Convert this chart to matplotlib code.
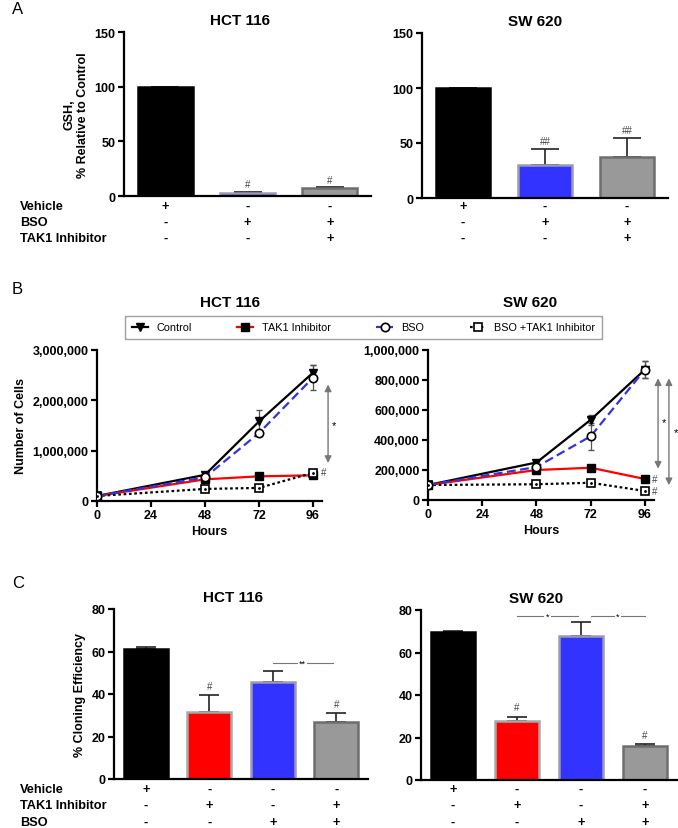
import matplotlib
matplotlib.use("Agg")
import matplotlib.pyplot as plt
from matplotlib.transforms import blended_transform_factory
from matplotlib.ticker import FuncFormatter
import numpy as np

plt.rcParams["font.family"] = ["Liberation Sans", "DejaVu Sans"]

W, H = 678, 829

# ---- panel A: GSH levels ----
a_titles = ["HCT 116", "SW 620"]
a_values = [[100, 3, 7], [100, 30, 37]]
a_errors = [[0, 1.0, 1.5], [0, 15, 18]]
a_marks = [["", "#", "#"], ["", "##", "##"]]
a_row_names = ["Vehicle", "BSO", "TAK1 Inhibitor"]
a_rows = [["+", "-", "-"], ["-", "+", "+"], ["-", "-", "+"]]

# ---- panel B: growth curves ----
hours = [0, 48, 72, 96]
b_titles = ["HCT 116", "SW 620"]
b_series = ["Control", "TAK1 Inhibitor", "BSO", "BSO +TAK1 Inhibitor"]
hct_control = [100000, 520000, 1580000, 2550000]
hct_tak1 = [100000, 430000, 490000, 510000]
hct_bso = [100000, 470000, 1350000, 2450000]
hct_combo = [100000, 240000, 260000, 560000]
hct_control_err = [0, 40000, 220000, 150000]
hct_bso_err = [0, 30000, 60000, 250000]
sw_control = [100000, 250000, 535000, 870000]
sw_tak1 = [100000, 200000, 215000, 140000]
sw_bso = [100000, 220000, 425000, 870000]
sw_combo = [100000, 105000, 115000, 60000]
sw_control_err = [0, 15000, 35000, 55000]
sw_bso_err = [0, 15000, 90000, 55000]

# ---- panel C: cloning efficiency ----
c_titles = ["HCT 116", "SW 620"]
c_values = [[61, 31.5, 45.5, 27], [69.5, 28, 68, 16]]
c_errors = [[1, 8, 5.5, 4], [0.6, 1.8, 6.2, 1]]
c_marks = [["", "#", "", "#"], ["", "#", "", "#"]]
c_row_names = ["Vehicle", "TAK1 Inhibitor", "BSO"]
c_rows = [["+", "-", "-", "-"], ["-", "+", "-", "+"], ["-", "-", "+", "+"]]

TICK_FS = 9
TITLE_FS = 11
LABEL_FS = 9
ROW_FS = 9.2

fig = plt.figure(figsize=(W / 100, H / 100), dpi=100)


def add_ax(x0, y0, x1, y1):
    # pixel box (top-left origin) -> figure fraction
    return fig.add_axes([x0 / W, 1 - y1 / H, (x1 - x0) / W, (y1 - y0) / H])


def style_ax(ax, xticks=False):
    for side in ["top", "right"]:
        ax.spines[side].set_visible(False)
    for side in ["left", "bottom"]:
        ax.spines[side].set_linewidth(1.6)
    ax.tick_params(axis="y", width=1.6, length=4, labelsize=TICK_FS, pad=2)
    for lab in ax.get_yticklabels():
        lab.set_fontweight("bold")
    if xticks:
        ax.tick_params(axis="x", width=1.6, length=4, labelsize=TICK_FS, pad=2)
        for lab in ax.get_xticklabels():
            lab.set_fontweight("bold")
    else:
        ax.tick_params(axis="x", length=0, labelbottom=False)


def bar_panel(ax, values, errors, marks, colors, edges, width, cap):
    x = np.arange(len(values))
    ax.bar(x, values, width=width, color=colors, edgecolor=edges, linewidth=1.8, zorder=2)
    ax.errorbar(x, values, yerr=[np.zeros(len(values)), errors], fmt="none",
                ecolor="#222222", elinewidth=1.2, capsize=cap, capthick=1.2, zorder=1)
    for xi, v, e, m in zip(x, values, errors, marks):
        if m:
            ax.text(xi, v + e + 2, m, ha="center", va="bottom", fontsize=7, color="#444444")
    ax.set_xlim(-0.5, len(values) - 0.5)


def sign_rows(ax, rows, ys):
    tr = blended_transform_factory(ax.transData, fig.transFigure)
    for row, yp in zip(rows, ys):
        for i, s in enumerate(row):
            ax.text(i, 1 - yp / H, s, transform=tr, ha="center", va="center",
                    fontsize=ROW_FS, fontweight="bold")


def row_names(names, ys):
    for n, yp in zip(names, ys):
        fig.text(20 / W, 1 - yp / H, n, ha="left", va="center", fontsize=ROW_FS, fontweight="bold")


# ---------- A ----------
a_boxes = [(124, 33, 371, 197), (422, 34, 668, 199)]
a_title_x = [0.47, 0.46]
a_colors = ["#000000", "#3333FF", "#999999"]
a_edges = ["#000000", "#9A9AB0", "#6E6E6E"]
a_row_y = [207, 223, 239]
for k in range(2):
    ax = add_ax(*a_boxes[k])
    bar_panel(ax, a_values[k], a_errors[k], a_marks[k], a_colors, a_edges, 0.67, 10)
    ax.set_ylim(0, 150)
    ax.set_yticks([0, 50, 100, 150])
    style_ax(ax)
    ax.set_title(a_titles[k], fontsize=TITLE_FS, fontweight="bold", pad=6, x=a_title_x[k])
    sign_rows(ax, a_rows, a_row_y)
    if k == 0:
        ax.set_ylabel("GSH,\n% Relative to Control", fontsize=LABEL_FS, fontweight="bold", labelpad=4)
row_names(a_row_names, a_row_y)

# ---------- B ----------
b_boxes = [(97, 351, 322, 502), (428, 351, 654, 501)]
b_title_x = [0.59, 0.45]
b_data = [
    (hct_control, hct_tak1, hct_bso, hct_combo, hct_control_err, hct_bso_err),
    (sw_control, sw_tak1, sw_bso, sw_combo, sw_control_err, sw_bso_err),
]
b_ylims = [(3000000, [0, 1000000, 2000000, 3000000]),
           (1000000, [0, 200000, 400000, 600000, 800000, 1000000])]
handles = None
for k in range(2):
    ax = add_ax(*b_boxes[k])
    ctrl, tak, bso, combo, ctrl_err, bso_err = b_data[k]
    ax.errorbar(hours, ctrl, yerr=ctrl_err, fmt="none", ecolor="#555555",
                elinewidth=0.9, capsize=2, zorder=1)
    ax.errorbar(hours, bso, yerr=bso_err, fmt="none", ecolor="#555555",
                elinewidth=0.9, capsize=2, zorder=1)
    h1, = ax.plot(hours, ctrl, color="black", lw=1.6, marker="v", ms=6,
                  mfc="black", mec="black", zorder=3)
    h2, = ax.plot(hours, tak, color="#FF0000", lw=1.6, marker="s", ms=6,
                  mfc="black", mec="black", zorder=3)
    h3, = ax.plot(hours, bso, color="#3333DD", lw=1.6, ls=(0, (4, 2)), marker="o", ms=6,
                  mfc="white", mec="black", mew=1.2, zorder=4)
    h4, = ax.plot(hours, combo, color="black", lw=1.6, ls=(0, (1.2, 1.2)), marker="s", ms=6,
                  mfc="white", mec="black", mew=1.2, zorder=3)
    ax.plot(hours, combo, ls="none", marker=".", ms=2, color="black", zorder=5)
    handles = [h1, h2, h3, h4]
    ax.set_xlim(0, 100)
    ax.set_xticks([0, 24, 48, 72, 96])
    top, ticks = b_ylims[k]
    ax.set_ylim(0, top)
    ax.set_yticks(ticks)
    ax.yaxis.set_major_formatter(FuncFormatter(lambda v, p: f"{int(v):,}"))
    style_ax(ax, xticks=True)
    ax.set_xlabel("Hours", fontsize=LABEL_FS, fontweight="bold", labelpad=3)
    ax.set_title(b_titles[k], fontsize=TITLE_FS, fontweight="bold", pad=32, x=b_title_x[k])
    arrow = dict(arrowstyle="<|-|>,head_length=0.4,head_width=0.2", color="#777777", lw=1.0)
    if k == 0:
        ax.set_ylabel("Number of Cells", fontsize=LABEL_FS, fontweight="bold", labelpad=4)
        ax.annotate("", xy=(102.7, 700000), xytext=(102.7, 2370000),
                    arrowprops=arrow, annotation_clip=False)
        ax.text(104.5, 1500000, "*", fontsize=8, ha="left", va="center", clip_on=False)
        ax.text(99.5, 580000, "#", fontsize=7, color="#444444", ha="left", va="center", clip_on=False)
    else:
        ax.annotate("", xy=(101.8, 190000), xytext=(101.8, 830000),
                    arrowprops=arrow, annotation_clip=False)
        ax.annotate("", xy=(106.6, 80000), xytext=(106.6, 830000),
                    arrowprops=arrow, annotation_clip=False)
        ax.text(103.5, 520000, "*", fontsize=8, ha="left", va="center", clip_on=False)
        ax.text(108.6, 450000, "*", fontsize=8, ha="left", va="center", clip_on=False)
        ax.text(99.0, 140000, "#", fontsize=7, color="#444444", ha="left", va="center", clip_on=False)
        ax.text(99.0, 60000, "#", fontsize=7, color="#444444", ha="left", va="center", clip_on=False)

leg = fig.legend(handles, b_series, loc="lower left", ncol=4, mode="expand",
                 bbox_to_anchor=(125 / W, 1 - 340 / H, 477 / W, 25 / H),
                 fontsize=7.8, frameon=True, fancybox=False, handlelength=1.5,
                 borderaxespad=0, borderpad=0.6, columnspacing=1.0)
leg.get_frame().set_edgecolor("#888888")
leg.get_frame().set_linewidth(1.0)

# ---------- C ----------
c_boxes = [(114, 610, 368, 780), (421, 611, 677, 781)]
c_title_x = [0.47, 0.45]
c_colors = ["#000000", "#FF0000", "#3333FF", "#999999"]
c_edges = ["#000000", "#A8A8A8", "#9A9AB0", "#6E6E6E"]
c_row_y = [790, 806, 823]
for k in range(2):
    ax = add_ax(*c_boxes[k])
    bar_panel(ax, c_values[k], c_errors[k], c_marks[k], c_colors, c_edges, 0.69, 7.5)
    ax.set_ylim(0, 80)
    ax.set_yticks([0, 20, 40, 60, 80])
    style_ax(ax)
    ax.set_title(c_titles[k], fontsize=TITLE_FS, fontweight="bold", pad=6, x=c_title_x[k])
    sign_rows(ax, c_rows, c_row_y)
    if k == 0:
        ax.set_ylabel("% Cloning Efficiency", fontsize=LABEL_FS, fontweight="bold", labelpad=4)
        ax.plot([2, 2.95], [54.6, 54.6], color="#777777", lw=0.8, clip_on=False)
        ax.text(2.47, 54.6, "**", fontsize=6.5, ha="center", va="center",
                bbox=dict(facecolor="white", edgecolor="none", pad=1))
    else:
        for xa, xb in [(1, 1.95), (2.15, 3)]:
            ax.plot([xa, xb], [77.3, 77.3], color="#777777", lw=0.8, clip_on=False)
            ax.text((xa + xb) / 2, 77.3, "*", fontsize=6.5, ha="center", va="center",
                    bbox=dict(facecolor="white", edgecolor="none", pad=1))
row_names(c_row_names, c_row_y)

# panel letters
for letter, yp in [("A", 9), ("B", 290), ("C", 584)]:
    fig.text(12 / W, 1 - yp / H, letter, fontsize=12, ha="left", va="center")

fig.savefig("out.png", dpi=100)
